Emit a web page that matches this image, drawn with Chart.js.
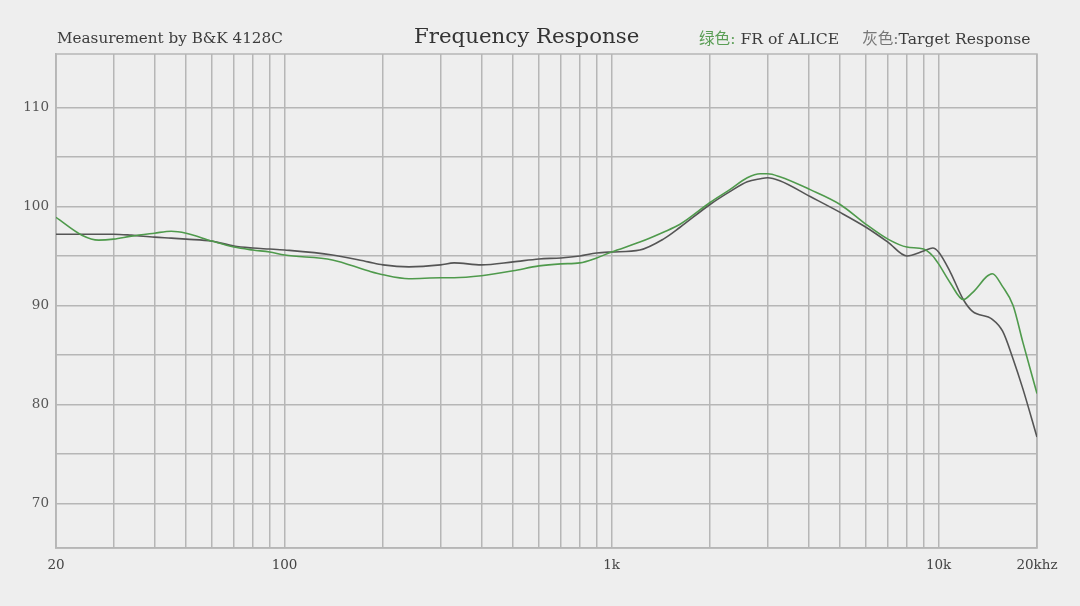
<!DOCTYPE html>
<html>
<head>
<meta charset="utf-8">
<script src="https://cdn.jsdelivr.net/npm/chart.js@4.4.1/dist/chart.umd.min.js"></script>
<style>
    body { margin: 0; background: #eeeeee; }
    #wrap { position: relative; width: 1080px; height: 606px; overflow: hidden; }
    .hdr { position: absolute; font-family: "DejaVu Serif", "Noto Sans CJK SC", serif; color: #3c3c3c; white-space: nowrap; line-height: 1; }
    .green { color: #5a9e55; }
    .grey { color: #777777; }
</style>
</head>
<body>
<div id="wrap">
    <canvas id="frChart" width="1080" height="606"></canvas>
    <div class="hdr" id="hdrLeft" style="left:57px; top:31px; font-size:15.2px;">Measurement by B&amp;K 4128C</div>
    <div class="hdr" id="hdrTitle" style="left:414px; top:25px; font-size:21.3px; color:#333;">Frequency Response</div>
    <div class="hdr" id="hdrLegend" style="left:699px; top:32px; font-size:15.6px;">
        <span class="green">绿色:</span> FR of ALICE<span style="display:inline-block; width:23px;"></span><span class="grey">灰色:</span>Target Response
    </div>
</div>
<script>
// Frequency response data (Hz / dB SPL)

const freqs = [20, 24, 27, 30, 34, 40, 45, 50, 60, 70, 80, 90, 100, 140, 180, 200, 240, 300, 330, 400,
    500, 600, 700, 800, 900, 1000, 1220, 1440, 1620, 2000, 2300, 2600, 2850, 3000, 3270, 4050,
    5000, 6000, 7000, 8000, 9000, 9600, 10000, 10850, 11900, 12700, 14600, 15700, 16900, 18100, 20000];

const aliceFR = [98.9, 97.1, 96.6, 96.7, 97.0, 97.3, 97.5, 97.3, 96.5, 95.9, 95.6, 95.4, 95.1, 94.6, 93.5, 93.1, 92.7, 92.8, 92.8, 93.0,
    93.5, 94.0, 94.2, 94.3, 94.8, 95.4, 96.4, 97.4, 98.2, 100.4, 101.7, 102.9, 103.3, 103.3, 103.0, 101.7,
    100.2, 98.2, 96.7, 95.9, 95.7, 95.0, 94.2, 92.3, 90.6, 91.3, 93.2, 91.9, 90.0, 86.3, 81.1];

const targetFR = [97.2, 97.2, 97.2, 97.2, 97.1, 96.9, 96.8, 96.7, 96.5, 96.0, 95.8, 95.7, 95.6, 95.1, 94.4, 94.1, 93.9, 94.1, 94.3, 94.1,
    94.4, 94.7, 94.8, 95.0, 95.3, 95.4, 95.6, 96.7, 97.9, 100.2, 101.5, 102.5, 102.8, 102.9, 102.6, 101.0,
    99.4, 97.9, 96.4, 95.0, 95.5, 95.8, 95.4, 93.4, 90.6, 89.4, 88.6, 87.4, 84.6, 81.6, 76.7];

// grid lines on the log axis, and which of them carry a label
const xGrid = [20, 30, 40, 50, 60, 70, 80, 90, 100, 200, 300, 400, 500, 600, 700, 800, 900,
    1000, 2000, 3000, 4000, 5000, 6000, 7000, 8000, 9000, 10000, 20000];
const xLabelFreqs = [20, 100, 1000, 10000, 20000];
const xLabelTexts = ['20', '100', '1k', '10k', '20khz'];

const yGrid = [70, 75, 80, 85, 90, 95, 100, 105, 110];
const yLabels = [70, 80, 90, 100, 110];

const gridColor = '#b6b6b6';
const tickFont = { family: '"DejaVu Serif", serif', size: 13.5 };

const toPoints = (vals) => freqs.map((f, i) => ({ x: f, y: vals[i] }));

// box round the plot area (Chart.js only draws left + bottom borders)
const frameBox = {
    id: 'frameBox',
    beforeDatasetsDraw(chart) {
        const { ctx, chartArea: a } = chart;
        ctx.save();
        ctx.strokeStyle = gridColor;
        ctx.lineWidth = 1.5;
        ctx.strokeRect(a.left, a.top, a.right - a.left, a.bottom - a.top);
        ctx.restore();
    }
};

new Chart(document.getElementById('frChart'), {
    type: 'line',
    data: {
        datasets: [
            {
                label: 'FR of ALICE',
                data: toPoints(aliceFR),
                borderColor: '#4f9a4c',
                borderWidth: 1.6,
                pointRadius: 0,
                cubicInterpolationMode: 'monotone'
            },
            {
                label: 'Target Response',
                data: toPoints(targetFR),
                borderColor: '#555555',
                borderWidth: 1.6,
                pointRadius: 0,
                cubicInterpolationMode: 'monotone'
            }
        ]
    },
    options: {
        responsive: false,
        animation: false,
        layout: { padding: { top: 54, right: 43, left: 0, bottom: 0 } },
        plugins: {
            legend: { display: false },
            title: { display: false },
            tooltip: { enabled: false }
        },
        scales: {
            x: {
                type: 'logarithmic',
                min: 20,
                max: 20000,
                afterBuildTicks: (scale) => { scale.ticks = xGrid.map(v => ({ value: v })); },
                afterFit: (scale) => { scale.height = 58; },
                ticks: {
                    autoSkip: false,
                    maxRotation: 0,
                    padding: 9,
                    color: '#444444',
                    font: tickFont,
                    callback: (v) => {
                        const i = xLabelFreqs.indexOf(v);
                        return i >= 0 ? xLabelTexts[i] : '';
                    }
                },
                grid: { color: gridColor, lineWidth: 1.5, drawTicks: false },
                border: { color: gridColor, width: 1.5 }
            },
            y: {
                min: 65.5,
                max: 115.4,
                afterBuildTicks: (scale) => { scale.ticks = yGrid.map(v => ({ value: v })); },
                afterFit: (scale) => { scale.width = 56; },
                ticks: {
                    padding: 7,
                    color: '#555555',
                    font: tickFont,
                    callback: (v) => yLabels.includes(v) ? String(v) : ''
                },
                grid: { color: gridColor, lineWidth: 1.5, drawTicks: false },
                border: { color: gridColor, width: 1.5 }
            }
        }
    },
    plugins: [frameBox]
});
</script>
</body>
</html>
